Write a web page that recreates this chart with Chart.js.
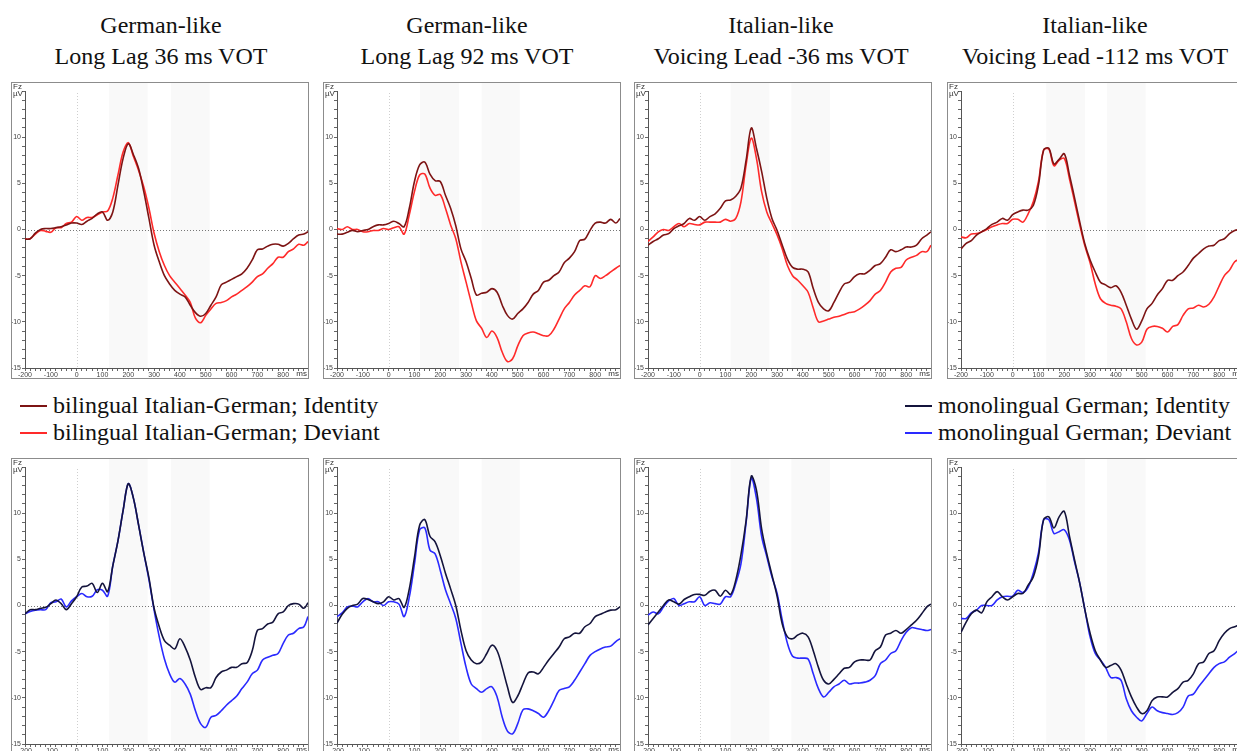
<!DOCTYPE html>
<html>
<head>
<meta charset="utf-8">
<script src="https://cdn.jsdelivr.net/npm/chart.js@4.4.1/dist/chart.umd.min.js"></script>
<style>
body { margin: 0; width: 1237px; height: 751px; overflow: hidden; background: #fff;
       font-family: 'Liberation Serif', 'Times New Roman', serif; position: relative; }
.title { position: absolute; width: 400px; text-align: center; font-size: 24px; line-height: 31px; color: #111; }
.panel { position: absolute; width: 298px; height: 297px; border: 1px solid #8c8c8c; box-sizing: border-box; }
.panel canvas { display: block; }
.leg { position: absolute; font-size: 24px; line-height: 27px; color: #111; white-space: nowrap; }
.mk { display: inline-block; width: 27px; height: 2px; vertical-align: middle; margin-right: 6px; position: relative; top: -1px; }
</style>
</head>
<body>
<div class="title" style="left:-39px;top:10px">German-like<br>Long Lag 36 ms VOT</div>
<div class="title" style="left:267px;top:10px">German-like<br>Long Lag 92 ms VOT</div>
<div class="title" style="left:581px;top:10px">Italian-like<br>Voicing Lead -36 ms VOT</div>
<div class="title" style="left:895px;top:10px">Italian-like<br>Voicing Lead -112 ms VOT</div>

<div class="leg" style="left:20px;top:392px">
  <div><span class="mk" style="background:#7d1414"></span>bilingual Italian-German; Identity</div>
  <div><span class="mk" style="background:#ff2a2a"></span>bilingual Italian-German; Deviant</div>
</div>
<div class="leg" style="left:905px;top:392px">
  <div><span class="mk" style="background:#14143c"></span>monolingual German; Identity</div>
  <div><span class="mk" style="background:#2a2aff"></span>monolingual German; Deviant</div>
</div>

<div class="panel" style="left:11px;top:82px"><canvas id="t1" width="296" height="295"></canvas></div>
<div class="panel" style="left:323px;top:82px"><canvas id="t2" width="296" height="295"></canvas></div>
<div class="panel" style="left:634px;top:82px"><canvas id="t3" width="296" height="295"></canvas></div>
<div class="panel" style="left:947px;top:82px"><canvas id="t4" width="296" height="295"></canvas></div>
<div class="panel" style="left:11px;top:458px"><canvas id="b1" width="296" height="295"></canvas></div>
<div class="panel" style="left:323px;top:458px"><canvas id="b2" width="296" height="295"></canvas></div>
<div class="panel" style="left:634px;top:458px"><canvas id="b3" width="296" height="295"></canvas></div>
<div class="panel" style="left:947px;top:458px"><canvas id="b4" width="296" height="295"></canvas></div>

<script>
// time points (ms)
const times = [-200,-180,-160,-140,-120,-100,-80,-60,-40,-20,
  0,20,40,60,80,100,120,140,160,180,
  200,220,240,260,280,300,320,340,360,380,
  400,420,440,460,480,500,520,540,560,580,
  600,620,640,660,680,700,720,740,760,780,
  800,820,840,860,880,896];

// bilingual Italian-German (top row), µV at Fz
const bilIdLag36 = [-1.05,-1.0,-0.4,0.0,0.1,0.1,0.2,0.3,0.5,0.7,
  0.7,0.55,0.9,1.2,1.7,1.9,1.0,1.9,4.8,7.7,
  9.3,8.1,6.6,4.1,1.2,-1.7,-3.5,-5.0,-5.9,-6.6,
  -7.0,-7.3,-8.2,-9.0,-9.4,-9.1,-8.2,-7.3,-6.0,-5.7,
  -5.4,-5.1,-4.8,-4.2,-3.3,-2.2,-2.1,-1.8,-1.6,-1.6,
  -1.8,-1.5,-1.0,-0.6,-0.5,-0.25];
const bilDevLag36 = [-1.05,-1.0,-0.5,-0.1,-0.2,-0.3,0.2,0.2,0.65,0.8,
  1.4,1.0,1.3,1.3,1.6,1.9,2.0,3.4,5.9,8.4,
  9.4,7.9,6.4,4.6,2.3,-0.4,-2.4,-3.9,-5.0,-5.7,
  -6.4,-7.1,-7.9,-9.6,-10.1,-9.3,-8.6,-8.0,-7.9,-7.7,
  -7.3,-7.0,-6.6,-6.2,-5.7,-5.1,-4.8,-4.2,-3.7,-3.0,
  -3.0,-2.4,-2.1,-1.6,-1.7,-1.3];
const bilIdLag92 = [-0.5,-0.5,-0.3,-0.1,-0.25,-0.1,0,0.3,0.5,0.5,
  0.65,0.9,0.65,0.3,2.3,5.2,7.0,7.3,6.0,5.3,
  5.2,3.7,2.3,0.4,-2.1,-3.5,-5.3,-7.1,-6.9,-6.8,
  -6.4,-6.8,-8.2,-9.3,-9.7,-9.1,-8.6,-7.9,-7.0,-6.6,
  -5.7,-5.5,-5.0,-4.6,-3.6,-3.1,-2.4,-1.2,-1.05,-0.1,
  0.7,0.8,0.7,1.1,0.7,1.2];
const bilDevLag92 = [0.1,0,0.3,0,0,-0.25,-0.25,-0.1,-0.1,0.1,
  0,0.2,0.3,-0.5,1.6,4.1,5.9,6.0,4.5,3.7,
  3.8,2.3,0.5,-1.0,-3.5,-5.7,-7.9,-9.9,-10.7,-11.7,
  -11.0,-11.7,-13.3,-14.3,-14.0,-12.6,-11.5,-11.2,-11.1,-11.3,
  -11.5,-11.5,-10.8,-9.7,-8.6,-7.9,-7.1,-6.6,-6.1,-6.2,
  -5.0,-5.3,-5.0,-4.6,-4.2,-3.9];
const bilIdLead36 = [-1.7,-1.3,-1.0,-0.6,-0.45,0.1,0.4,0.65,1.2,1.0,
  1.4,1.0,1.4,1.7,2.3,3.1,3.2,3.6,4.5,7.5,
  11.0,8.8,6.3,3.4,1.2,-0.1,-1.7,-3.2,-4.1,-4.3,
  -4.3,-4.6,-6.4,-7.9,-8.6,-8.8,-7.9,-6.8,-5.9,-5.7,
  -5.1,-4.8,-4.8,-4.4,-3.9,-3.7,-3.0,-2.2,-2.4,-2.2,
  -1.9,-1.9,-1.7,-1.0,-0.6,-0.25];
const bilDevLead36 = [-1.3,-0.8,-0.25,0,-0.1,0.3,0.65,0.3,0.65,0.55,
  0.5,0.8,0.8,0.8,0.8,1.1,0.9,1.2,3.0,7.0,
  9.9,7.7,4.1,1.9,0.65,-0.6,-2.1,-3.9,-5.0,-5.5,
  -6.1,-6.8,-8.5,-10.0,-9.9,-9.7,-9.5,-9.4,-9.2,-9.0,
  -8.9,-8.6,-8.2,-7.7,-7.0,-6.6,-5.7,-4.6,-4.2,-4.1,
  -3.3,-3.0,-2.8,-2.4,-2.4,-1.7];
const bilIdLead112 = [-2.1,-1.5,-1.2,-0.6,-0.25,0.1,0.55,0.8,1.2,1.0,
  1.6,1.9,2.1,2.1,2.6,4.8,8.6,8.8,7.1,7.6,
  8.2,5.9,3.4,0.8,-1.6,-3.3,-4.6,-5.7,-6.0,-6.3,
  -6.1,-6.8,-8.2,-9.7,-10.8,-9.9,-8.6,-8.0,-7.1,-6.4,
  -5.5,-5.5,-5.0,-4.6,-3.9,-3.1,-2.6,-2.1,-1.8,-1.7,
  -1.2,-1.0,-0.45,-0.1,0,0.2];
const bilDevLead112 = [-0.8,-0.9,-0.5,-0.45,-0.25,0,0.3,0.5,0.65,0.65,
  1.1,1.1,0.8,1.7,3.0,5.2,8.6,8.7,6.9,7.5,
  7.7,5.5,3.0,0.5,-1.8,-3.6,-5.9,-7.5,-8.0,-8.2,
  -8.3,-8.6,-10.0,-11.8,-12.5,-12.2,-10.8,-10.5,-10.5,-10.7,
  -11.1,-10.5,-10.3,-9.3,-8.6,-8.5,-8.2,-8.4,-8.1,-7.3,
  -6.1,-5.0,-4.4,-3.5,-3.2,-3.0];

// monolingual German (bottom row)
const monoIdLag36 = [-0.9,-0.45,-0.45,-0.3,-0.2,0.2,0.6,0.2,-0.45,0.2,
  0.95,2.0,2.1,2.4,1.4,2.4,1.5,4.3,7.0,10.3,
  13.2,11.6,8.7,5.7,3.0,-0.3,-2.3,-3.8,-4.3,-4.7,
  -3.6,-4.5,-5.9,-7.8,-9.1,-8.9,-8.9,-7.8,-7.2,-7.0,
  -6.7,-6.7,-6.3,-6.2,-4.9,-2.7,-2.5,-2.0,-1.8,-0.9,
  -0.7,0,0.2,0.15,-0.3,0.3];
const monoDevLag36 = [-0.9,-0.65,-0.5,-0.45,-0.45,0.3,0.4,0.7,-0.15,0.5,
  0.95,1.3,0.95,1.0,1.7,1.65,1.0,4.3,7.0,10.3,
  13.2,11.6,8.7,5.7,2.8,-0.5,-3.4,-5.8,-7.4,-8.3,
  -7.9,-8.5,-9.6,-11.4,-12.8,-13.2,-12.1,-11.9,-11.4,-10.8,
  -10.3,-9.8,-9.0,-8.3,-7.4,-7.0,-5.9,-5.6,-5.4,-5.2,
  -4.1,-3.2,-3.0,-2.5,-2.3,-1.2];
const monoIdLag92 = [-1.9,-0.95,-0.3,0,0.15,0.75,0.65,0.4,0.2,0.4,
  0.95,0.6,0.75,-0.2,1.8,5.2,8.7,9.3,7.5,6.9,
  5.4,3.5,1.8,0,-2.7,-4.9,-5.9,-6.3,-6.1,-5.2,
  -4.3,-4.9,-6.7,-8.8,-10.5,-9.8,-8.5,-7.3,-7.2,-7.4,
  -6.7,-5.9,-5.2,-4.5,-3.6,-3.4,-3.0,-3.0,-2.3,-1.95,
  -1.2,-0.95,-0.7,-0.5,-0.45,-0.15];
const monoDevLag92 = [-1.2,-0.8,-0.15,-0.05,-0.15,0.4,0.75,0.4,0.4,0,
  0.4,0.4,0.15,-1.2,0.9,4.5,8.2,8.4,6.0,5.6,
  3.8,1.7,0.2,-1.4,-4.1,-6.7,-8.5,-9.0,-9.4,-9.0,
  -8.8,-9.9,-12.1,-13.6,-13.9,-12.8,-11.3,-11.2,-11.4,-11.7,
  -12.1,-11.4,-10.3,-9.2,-9.0,-8.8,-8.1,-7.2,-6.3,-5.4,
  -5.0,-4.7,-4.5,-4.4,-3.9,-3.6];
const monoIdLead36 = [-2.1,-1.4,-0.7,0,0.6,0.4,0.15,0.65,0.95,1.2,
  1.2,1.1,1.55,1.65,1.0,1.65,1.2,2.75,5.5,9.2,
  14.0,12.5,8.3,5.6,3.3,1.0,-2.0,-3.4,-3.6,-3.2,
  -3.0,-3.4,-4.9,-6.7,-8.1,-8.5,-8.0,-7.4,-6.8,-6.7,
  -6.1,-5.9,-5.9,-5.9,-4.9,-4.5,-3.2,-3.0,-2.7,-3.0,
  -2.6,-2.1,-1.6,-0.9,-0.15,0.15];
const monoDevLead36 = [-1.05,-0.7,-0.9,-0.15,0.5,0.75,0,0.2,0.4,0.4,
  0.95,0,0.3,0.2,0.15,0.95,0.95,2.4,4.5,9.0,
  13.8,11.6,7.5,5.3,3.1,1.3,-1.6,-4.1,-5.5,-5.7,
  -5.7,-5.8,-7.4,-9.0,-9.9,-9.4,-8.8,-8.5,-8.1,-8.5,
  -8.4,-8.4,-8.3,-8.1,-7.6,-6.3,-5.9,-5.2,-4.9,-3.8,
  -2.9,-2.4,-2.5,-2.6,-2.7,-2.6];
const monoIdLead112 = [-2.9,-1.8,-0.9,-0.5,-0.8,0.4,0.95,1.5,0.95,0.6,
  0.95,1.3,1.3,2.2,3.1,5.3,9.3,9.6,8.4,9.6,
  10.2,7.5,4.9,2.4,-0.5,-3.0,-4.9,-5.9,-6.7,-6.5,
  -6.3,-7.0,-8.5,-9.9,-11.0,-11.7,-11.4,-10.3,-9.9,-9.9,
  -9.9,-9.4,-9.0,-8.3,-8.1,-7.4,-6.3,-6.1,-5.2,-4.9,
  -3.8,-3.0,-2.5,-2.3,-2.1,-2.0];
const monoDevLead112 = [-1.4,-1.4,-0.8,-0.5,0,0,0,0.6,0.95,1.0,
  1.0,1.65,1.4,2.0,3.5,5.7,9.3,9.3,7.8,8.0,
  8.2,7.1,4.7,2.4,-0.5,-3.4,-5.2,-5.9,-6.7,-7.8,
  -7.8,-8.1,-10.1,-11.4,-12.1,-12.5,-11.7,-11.0,-11.4,-11.6,
  -11.7,-11.8,-11.6,-11.0,-9.8,-9.6,-8.8,-8.1,-7.4,-6.7,
  -6.3,-6.1,-5.6,-5.2,-4.7,-4.3];

// analysis windows (ms) per column
const windowsLag36 = [[125, 275], [365, 515]];
const windowsLag92 = [[122, 272], [360, 508]];
const windowsLead36 = [[120, 270], [355, 505]];
const windowsLead112 = [[130, 280], [365, 515]];

const bilColors = ['#7d1414', '#ff2a2a'];
const monoColors = ['#14143c', '#2a2aff'];

const panelDecor = {
  id: 'panelDecor',
  beforeDraw(chart, args, opts) {
    const { ctx, chartArea: a, scales: { x, y } } = chart;
    ctx.save();
    ctx.fillStyle = '#f9f9f9';
    opts.shade.forEach(([s, e]) => {
      const x0 = x.getPixelForValue(s);
      const x1 = x.getPixelForValue(e);
      ctx.fillRect(x0, 0, x1 - x0, a.bottom);
    });
    ctx.lineWidth = 1;
    ctx.setLineDash([1, 2]);
    // stimulus onset
    ctx.strokeStyle = '#cfcfcf';
    const xz = Math.round(x.getPixelForValue(0)) + 0.5;
    ctx.beginPath(); ctx.moveTo(xz, a.top + 2); ctx.lineTo(xz, a.bottom); ctx.stroke();
    // zero line
    ctx.strokeStyle = '#777';
    const yz = Math.round(y.getPixelForValue(0)) + 0.5;
    ctx.beginPath(); ctx.moveTo(a.left, yz); ctx.lineTo(a.right, yz); ctx.stroke();
    ctx.restore();
  },
  afterDraw(chart) {
    const { ctx, chartArea: a } = chart;
    ctx.save();
    ctx.fillStyle = '#333';
    ctx.font = '8px "Liberation Sans", Arial, sans-serif';
    ctx.textBaseline = 'middle';
    ctx.fillText('Fz', 1, 4);
    ctx.fillText('µV', 1, 11);
    ctx.textAlign = 'right';
    ctx.fillText('ms', a.right - 1, a.bottom + 6);
    ctx.restore();
  }
};

const tickFont = { size: 7, family: 'Liberation Sans' };

function makePanel(id, identity, deviant, colors, shade) {
  const toPoints = arr => times.map((t, i) => ({ x: t, y: arr[i] }));
  return new Chart(document.getElementById(id), {
    type: 'line',
    data: {
      datasets: [{
        label: 'Identity',
        data: toPoints(identity),
        borderColor: colors[0],
        borderWidth: 1.6,
        pointRadius: 0,
        tension: 0.35,
        fill: false
      },
      {
        label: 'Deviant',
        data: toPoints(deviant),
        borderColor: colors[1],
        borderWidth: 1.6,
        pointRadius: 0,
        tension: 0.35,
        fill: false
      }]
    },
    options: {
      responsive: false,
      animation: false,
      devicePixelRatio: 1,
      layout: { padding: { top: 8, right: 0, left: 0, bottom: 0 } },
      plugins: {
        legend: { display: false },
        tooltip: { enabled: false },
        panelDecor: { shade: shade }
      },
      scales: {
        x: {
          type: 'linear',
          min: -200,
          max: 896,
          afterFit(s) { s.height = 10; },
          grid: { drawOnChartArea: false, tickLength: 3, color: '#666' },
          border: { color: '#555' },
          ticks: {
            stepSize: 20,
            includeBounds: false,
            autoSkip: false,
            maxRotation: 0,
            padding: 0,
            font: tickFont,
            color: '#444',
            callback: v => (v % 100 === 0 ? String(v) : '')
          }
        },
        y: {
          min: -15,
          max: 15,
          afterFit(s) { s.width = 13; },
          grid: { drawOnChartArea: false, tickLength: 3, color: '#666' },
          border: { color: '#555' },
          ticks: {
            stepSize: 1,
            autoSkip: false,
            padding: 1,
            font: tickFont,
            color: '#444',
            callback: v => (v % 5 === 0 && v !== 15 ? String(v) : '')
          }
        }
      }
    },
    plugins: [panelDecor]
  });
}

makePanel('t1', bilIdLag36, bilDevLag36, bilColors, windowsLag36);
makePanel('t2', bilIdLag92, bilDevLag92, bilColors, windowsLag92);
makePanel('t3', bilIdLead36, bilDevLead36, bilColors, windowsLead36);
makePanel('t4', bilIdLead112, bilDevLead112, bilColors, windowsLead112);
makePanel('b1', monoIdLag36, monoDevLag36, monoColors, windowsLag36);
makePanel('b2', monoIdLag92, monoDevLag92, monoColors, windowsLag92);
makePanel('b3', monoIdLead36, monoDevLead36, monoColors, windowsLead36);
makePanel('b4', monoIdLead112, monoDevLead112, monoColors, windowsLead112);
</script>
</body>
</html>
